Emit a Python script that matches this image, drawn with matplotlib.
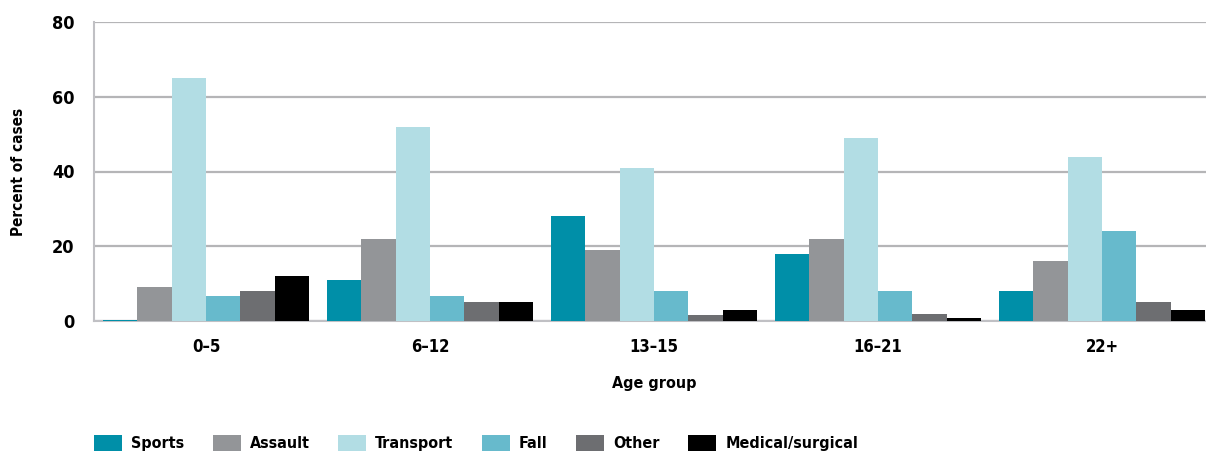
import numpy as np
import matplotlib
matplotlib.use("Agg")
import matplotlib.pyplot as plt

plt.rcParams["font.family"] = ["DejaVu Sans"]
plt.rcParams["font.stretch"] = "condensed"
plt.rcParams["font.weight"] = "bold"

groups = ["0\u20135", "6\u201312", "13\u201315", "16\u201321", "22+"]
causes = ["Sports", "Assault", "Transport", "Fall", "Other", "Medical/surgical"]
colors = ["#008fa8", "#939598", "#b2dde4", "#67bacc", "#6d6e71", "#000000"]

sports = [0.3, 11, 28, 18, 8]
assault = [9, 22, 19, 22, 16]
transport = [65, 52, 41, 49, 44]
fall = [6.7, 6.7, 8, 8, 24]
other = [8, 5, 1.6, 2, 5]
medical = [12, 5, 3, 0.8, 3]
series = [sports, assault, transport, fall, other, medical]

fig = plt.figure(figsize=(12.06, 4.53), dpi=100)
ax = fig.add_axes([94 / 1206, 1 - 321 / 453, 1120 / 1206, 299 / 453])

x = np.arange(len(groups))
w = 0.154
for i, (vals, name, c) in enumerate(zip(series, causes, colors)):
    ax.bar(x + (i - 2.5) * w, vals, w, color=c, label=name, zorder=3)

ax.set_xlim(-0.5, 4.5)
ax.set_ylim(0, 80)
ax.set_yticks([0, 20, 40, 60, 80])
ax.grid(axis="y", color="#b5b5b7", linewidth=1.6, zorder=0)
ax.set_xticks(x)
ax.set_xticklabels(groups)
ax.tick_params(axis="x", length=0, labelsize=12, pad=12)
ax.tick_params(axis="y", length=0, labelsize=13, pad=14)
for s in ["top", "right"]:
    ax.spines[s].set_visible(False)
for s in ["left", "bottom"]:
    ax.spines[s].set_color("#c0c0c4")
    ax.spines[s].set_linewidth(1.5)

ax.set_xlabel("Age group", fontsize=11.5, fontweight="bold", labelpad=15)
ax.set_ylabel("Percent of cases", fontsize=11, fontweight="bold", labelpad=19)

leg = fig.legend(loc="lower left", bbox_to_anchor=(80 / 1206, -0.028), ncol=6,
                 frameon=False, fontsize=11.5, handlelength=1.75, handleheight=1.1,
                 columnspacing=1.8, handletextpad=0.55)

fig.savefig("out.png", dpi=100)
